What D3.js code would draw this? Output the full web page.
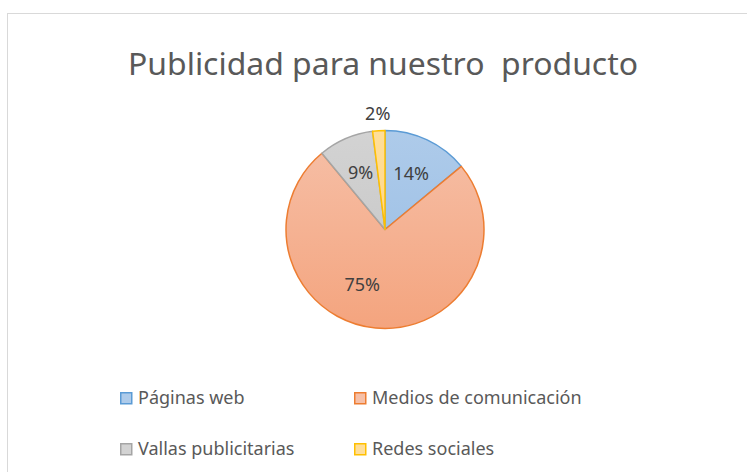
<!DOCTYPE html>
<html>
<head>
<meta charset="utf-8">
<script src="https://cdn.jsdelivr.net/npm/d3@7"></script>
<style>
  body { margin: 0; background: #fff; }
  text { font-family: "Noto Sans", "Open Sans", sans-serif; }
</style>
</head>
<body>
<div id="chart"></div>
<script>
// data
var categories = ["Páginas web", "Medios de comunicación", "Vallas publicitarias", "Redes sociales"];
var values = [14, 75, 9, 2];
var titleText = "Publicidad para nuestro  producto";

// office-like colours: border, top of gradient, bottom of gradient
var strokeColors = ["#5B9BD5", "#ED7D31", "#A5A5A5", "#FFC000"];
var topColors = ["#AECBEA", "#F6C0A8", "#D3D3D3", "#FFDE99"];
var bottomColors = ["#97BCE4", "#F4A47E", "#C3C3C3", "#FFD27A"];

var W = 747, H = 472;
var cx = 385, cy = 229.5, r = 99;

var svg = d3.select("#chart").append("svg")
    .attr("width", W)
    .attr("height", H);

// chart area border (runs off the right/bottom edge)
svg.append("rect")
    .attr("x", 7.5).attr("y", 13.5)
    .attr("width", 760).attr("height", 480)
    .attr("fill", "#fff")
    .attr("stroke", "#D9D9D9")
    .attr("stroke-width", 1);

// gradients, in the pie group's coordinates
var defs = svg.append("defs");
categories.forEach(function(c, i) {
    var gr = defs.append("linearGradient")
        .attr("id", "grad" + i)
        .attr("gradientUnits", "userSpaceOnUse")
        .attr("x1", 0).attr("y1", -r)
        .attr("x2", 0).attr("y2", r);
    gr.append("stop").attr("offset", "0%").attr("stop-color", topColors[i]);
    gr.append("stop").attr("offset", "100%").attr("stop-color", bottomColors[i]);
});

// title
svg.append("text")
    .attr("x", 383).attr("y", 75)
    .attr("text-anchor", "middle")
    .attr("fill", "#595959")
    .style("font-size", "30px")
    .style("white-space", "pre")
    .attr("textLength", 510)
    .attr("lengthAdjust", "spacingAndGlyphs")
    .text(titleText);

var pie = d3.pie().sort(null).value(function(d) { return d; });
var arcs = pie(values);
var arc = d3.arc().innerRadius(0).outerRadius(r);

var g = svg.append("g").attr("transform", "translate(" + cx + "," + cy + ")");

g.selectAll("path.slice")
    .data(arcs)
    .enter().append("path")
    .attr("class", "slice")
    .attr("d", arc)
    .attr("fill", function(d, i) { return "url(#grad" + i + ")"; })
    .attr("stroke", function(d, i) { return strokeColors[i]; })
    .attr("stroke-width", 1.5)
    .attr("stroke-linejoin", "round");

// data labels (big slice label sits a bit off its centroid, like Excel's best fit)
var labelArc = d3.arc().innerRadius(r * 0.62).outerRadius(r * 0.62);
var outerArc = d3.arc().innerRadius(r + 17).outerRadius(r + 17);
g.selectAll("text.lbl")
    .data(arcs)
    .enter().append("text")
    .attr("class", "lbl")
    .attr("transform", function(d, i) {
        var p = (i === 3 ? outerArc : labelArc).centroid(d);
        if (i === 1) p = d3.arc().innerRadius(r * 0.6).outerRadius(r * 0.6)
            .centroid({startAngle: d.startAngle, endAngle: d.endAngle + 0.6});
        return "translate(" + p[0] + "," + p[1] + ")";
    })
    .attr("dy", "0.35em")
    .attr("text-anchor", "middle")
    .attr("fill", "#404040")
    .style("font-size", "18px")
    .text(function(d) { return d.value + "%"; });

// legend
var legX = [120, 354], legY = [398, 449];
var leg = svg.selectAll("g.leg")
    .data(categories)
    .enter().append("g")
    .attr("class", "leg")
    .attr("transform", function(d, i) {
        return "translate(" + legX[i % 2] + "," + legY[Math.floor(i / 2)] + ")";
    });
leg.append("rect")
    .attr("x", 0.75).attr("y", -5.25)
    .attr("width", 11).attr("height", 11)
    .attr("fill", function(d, i) { return topColors[i]; })
    .attr("stroke", function(d, i) { return strokeColors[i]; })
    .attr("stroke-width", 1.5);
leg.append("text")
    .attr("x", 18).attr("y", 0)
    .attr("dy", "0.35em")
    .attr("fill", "#595959")
    .style("font-size", "18px")
    .text(function(d) { return d; });
</script>
</body>
</html>
